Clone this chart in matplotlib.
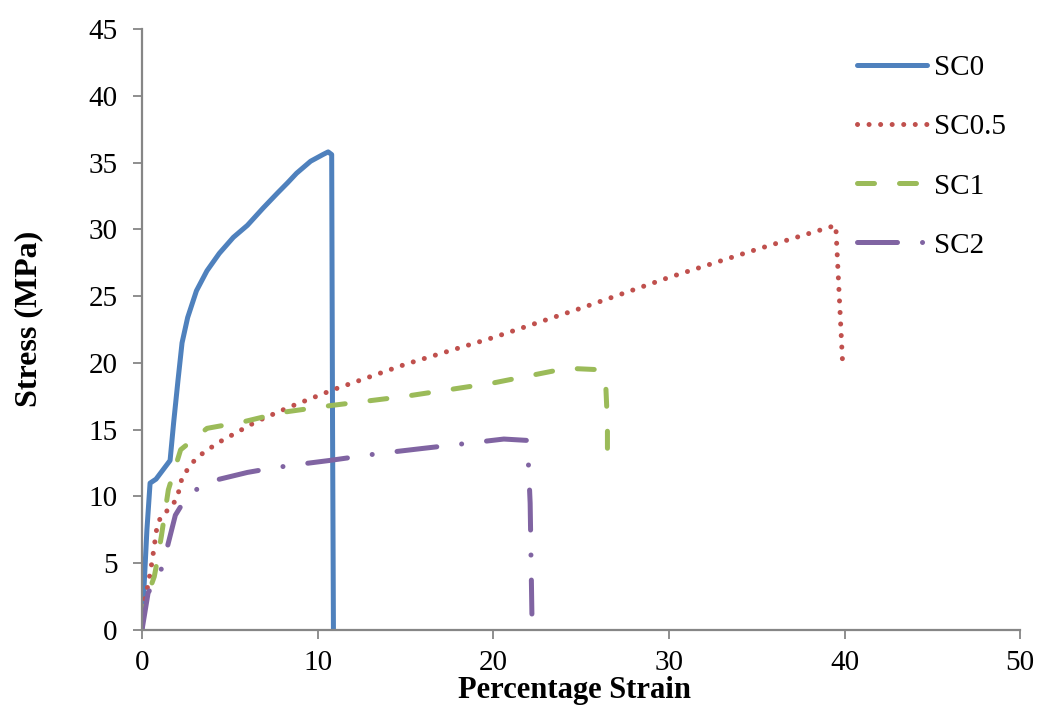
import matplotlib
matplotlib.use("Agg")
import matplotlib.pyplot as plt

plt.rcParams['font.family'] = ['Liberation Serif', 'DejaVu Serif']

# Stress-strain curves
sc0_strain = [0.0, 0.1, 0.28, 0.46, 0.8, 1.2, 1.6, 1.8, 2.05, 2.28, 2.6, 3.1, 3.7, 4.4, 5.2, 6.0, 6.9, 7.7, 8.3, 8.8, 9.6, 10.3, 10.6, 10.8, 10.85, 10.9]
sc0_stress = [0.0, 2.8, 7.5, 11.0, 11.3, 12.0, 12.7, 15.5, 18.7, 21.5, 23.4, 25.4, 26.9, 28.2, 29.4, 30.3, 31.6, 32.7, 33.5, 34.2, 35.1, 35.6, 35.8, 35.6, 15.0, 0.0]

sc05_strain = [0.0, 0.35, 0.57, 0.85, 1.1, 1.6, 2.0, 2.3, 3.1, 4.3, 5.4, 6.5, 8.4, 10.9, 15.0, 20.0, 25.0, 30.0, 35.0, 39.5, 39.7, 39.9]
sc05_stress = [1.5, 3.4, 5.1, 7.7, 8.6, 9.1, 9.9, 11.5, 12.9, 14.0, 14.8, 15.6, 16.7, 18.0, 19.9, 21.9, 24.1, 26.4, 28.5, 30.3, 25.0, 19.7]

sc1_strain = [0.0, 0.07, 0.7, 0.8, 1.1, 1.5, 2.2, 3.7, 5.8, 8.0, 10.7, 15.0, 20.0, 24.2, 25.9, 26.4, 26.5, 26.5]
sc1_stress = [0.5, 1.7, 4.0, 4.7, 7.0, 10.5, 13.5, 15.1, 15.6, 16.3, 16.8, 17.5, 18.5, 19.6, 19.5, 18.5, 15.5, 12.3]

sc2_strain = [0.0, 0.35, 1.0, 1.4, 1.9, 2.6, 3.8, 6.0, 7.3, 8.6, 10.7, 13.4, 16.0, 18.0, 20.6, 21.9, 22.0, 22.1, 22.2]
sc2_stress = [0.0, 2.8, 4.1, 6.0, 8.6, 10.1, 11.1, 11.8, 12.1, 12.35, 12.7, 13.2, 13.6, 13.9, 14.3, 14.2, 12.5, 9.5, 1.2]

series_names = ['SC0', 'SC0.5', 'SC1', 'SC2']
series_colors = ['#4F81BD', '#C0504D', '#9BBB59', '#8064A2']

x_ticks = [0, 10, 20, 30, 40, 50]
y_ticks = [0, 5, 10, 15, 20, 25, 30, 35, 40, 45]

fig = plt.figure(figsize=(10.41, 7.06), dpi=100)
ax = fig.add_axes([0.1364, 0.1076, 0.8436, 0.8513])

lw = 3.6
ax.plot(sc0_strain, sc0_stress, color=series_colors[0], lw=lw,
        solid_capstyle='round', solid_joinstyle='round', label=series_names[0])
ax.plot(sc05_strain, sc05_stress, color=series_colors[1], lw=lw,
        linestyle=(0, (0.01, 2.3)), dash_capstyle='round', label=series_names[1])
ax.plot(sc1_strain, sc1_stress, color=series_colors[2], lw=lw,
        linestyle=(0, (3.4, 5.0)), dash_capstyle='round', dash_joinstyle='round',
        label=series_names[2])
ax.plot(sc2_strain, sc2_stress, color=series_colors[3], lw=lw,
        linestyle=(0, (8.0, 5.0, 0.01, 5.0)), dash_capstyle='round', dash_joinstyle='round',
        label=series_names[3])

ax.set_xlim(0, 50)
ax.set_ylim(0, 45)
ax.set_xticks(x_ticks)
ax.set_yticks(y_ticks)
ax.tick_params(axis='both', labelsize=21, length=6.5, width=1.3, color='#868686', direction='out')
ax.tick_params(axis='x', pad=8)
ax.tick_params(axis='y', pad=11)

for side in ['top', 'right']:
    ax.spines[side].set_visible(False)
for side in ['left', 'bottom']:
    ax.spines[side].set_color('#868686')
    ax.spines[side].set_linewidth(1.6)

# axis titles placed where the reference has them, kept just inside the bottom edge
ax.set_xlabel('Percentage Strain', fontsize=22, fontweight='bold', va='baseline')
ax.xaxis.set_label_coords(0.492, -0.1131)
ax.set_ylabel('Stress (MPa)', fontsize=23, fontweight='bold', va='center', ha='center')
ax.yaxis.set_label_coords(-0.129, 0.517)

ax.legend(loc='upper left', bbox_to_anchor=(857 / 1041, 1 - 55 / 706),
          bbox_transform=fig.transFigure, frameon=False, fontsize=21,
          borderpad=0, borderaxespad=0, handlelength=2.4, handletextpad=0.25,
          labelspacing=1.12)

fig.savefig('out.png', dpi=100)
